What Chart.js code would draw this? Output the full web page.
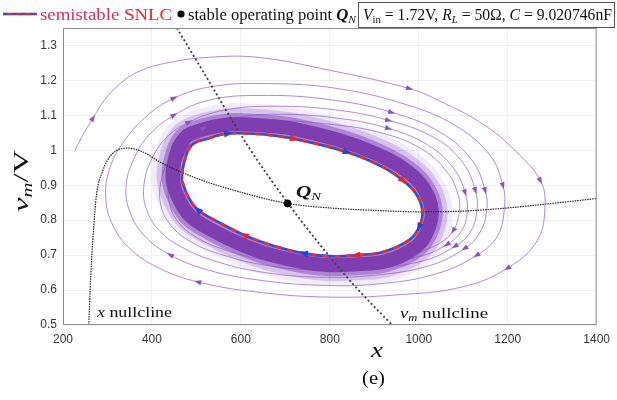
<!DOCTYPE html>
<html>
<head>
<meta charset="utf-8">
<script src="https://cdn.jsdelivr.net/npm/chart.js@4.4.0/dist/chart.umd.min.js"></script>
<style>
  html, body { margin: 0; padding: 0; background: #fff; }
  #wrap { position: relative; width: 617px; height: 400px; }
</style>
</head>
<body>
<div id="wrap"><canvas id="phase" width="617" height="400"></canvas></div>
<script>
// axis ticks
const xTicks = [200, 400, 600, 800, 1000, 1200, 1400];
const vTicks = [0.5, 0.6, 0.7, 0.8, 0.9, 1, 1.1, 1.2, 1.3];

// x nullcline (black dotted)
const xNullX = [258, 261, 264, 269, 275, 289, 311, 347, 380, 420, 500, 600, 704, 800, 900, 1000, 1100, 1200, 1300, 1400];
const xNullV = [0.5, 0.6, 0.68, 0.78, 0.87, 0.94, 0.99, 1.006, 0.995, 0.965, 0.92, 0.88, 0.848, 0.835, 0.828, 0.824, 0.826, 0.835, 0.848, 0.862];

// v_m nullcline
const vmNullX = [456, 520, 615, 706, 800, 860, 940];
const vmNullV = [1.35, 1.215, 1.014, 0.848, 0.695, 0.606, 0.5];

// stable operating point Q_N
const opX = [705];
const opV = [0.848];

// semistable SNLC (clockwise from the left end)
const snlcX = [467, 471, 489, 527, 571, 616, 653, 719, 838, 919, 964, 993, 1008, 1001, 978, 919, 860, 801, 742, 667, 608, 549, 504, 482, 467];
const snlcV = [0.914, 0.957, 1.014, 1.034, 1.048, 1.048, 1.045, 1.033, 0.995, 0.952, 0.914, 0.877, 0.829, 0.781, 0.743, 0.709, 0.700, 0.697, 0.705, 0.729, 0.757, 0.795, 0.829, 0.866, 0.914];
const snlcArrows = [4, 7, 8, 10, 13, 16, 18, 20, 22];

// dense band of trajectories hugging the SNLC (centre line, closed with overlap)
const bandX = [447, 451, 473, 516, 571, 616, 653, 724, 844, 931, 980, 1011, 1029, 1020, 993, 927, 860, 800, 738, 660, 600, 536, 487, 462, 447, 451, 473];
const bandV = [0.914, 0.971, 1.034, 1.060, 1.074, 1.074, 1.071, 1.060, 1.020, 0.974, 0.934, 0.891, 0.829, 0.771, 0.723, 0.683, 0.674, 0.671, 0.680, 0.703, 0.731, 0.771, 0.811, 0.857, 0.914, 0.971, 1.034];

// outer trajectory spiralling onto the SNLC
const trajX = [227, 247, 267, 293, 327, 371, 438, 527, 638, 800, 978, 1044, 1149, 1227, 1273, 1284, 1267, 1200, 1098, 949,
  793, 638, 504, 416, 349, 309, 296, 304, 331, 382, 449, 538, 660, 816, 971, 1082, 1160, 1189, 1193, 1178,
  1131, 1038, 904, 771, 638, 527, 442, 382, 349, 342, 358, 393, 449, 527, 638, 793, 938, 1049, 1120, 1149,
  1153, 1138, 1104, 1027, 904, 771, 649, 549, 471, 416, 387, 382, 398, 431, 482, 560, 660, 804, 931, 1038,
  1100, 1127, 1131, 1116, 1082, 1016, 904, 771, 656, 560, 489, 442, 420, 420, 438, 471, 516, 582, 671, 804,
  931, 1022, 1078, 1104, 1109, 1096, 1064, 1004, 904, 771, 656, 567, 500, 456, 438, 440, 460, 500,
  560, 660, 804, 927, 1011, 1064, 1089, 1091, 1078, 1047, 989];
const trajV = [1.000, 1.049, 1.091, 1.143, 1.189, 1.226, 1.251, 1.266, 1.266, 1.229, 1.177, 1.143, 1.071, 0.986, 0.914, 0.849, 0.743, 0.663, 0.609, 0.586,
  0.580, 0.594, 0.623, 0.663, 0.720, 0.794, 0.871, 0.943, 1.014, 1.091, 1.149, 1.183, 1.191, 1.177, 1.131, 1.071, 0.986, 0.900, 0.843, 0.757,
  0.700, 0.646, 0.617, 0.614, 0.629, 0.657, 0.700, 0.757, 0.829, 0.900, 0.971, 1.043, 1.100, 1.143, 1.157, 1.146, 1.109, 1.051, 0.971, 0.886,
  0.829, 0.766, 0.720, 0.671, 0.643, 0.637, 0.651, 0.680, 0.720, 0.771, 0.834, 0.900, 0.971, 1.034, 1.080, 1.114, 1.126, 1.117, 1.086, 1.034,
  0.963, 0.886, 0.829, 0.766, 0.726, 0.686, 0.663, 0.657, 0.671, 0.700, 0.737, 0.786, 0.843, 0.909, 0.971, 1.023, 1.063, 1.091, 1.103, 1.094,
  1.063, 1.014, 0.949, 0.880, 0.823, 0.769, 0.731, 0.697, 0.677, 0.671, 0.686, 0.714, 0.751, 0.800, 0.857, 0.920, 0.977, 1.029,
  1.063, 1.083, 1.074, 1.046, 1.000, 0.937, 0.871, 0.823, 0.771, 0.734, 0.703];
const trajArrows = [2, 10, 14, 17, 22, 30, 37, 40, 46, 52, 56, 59, 62, 74, 78, 81, 84, 96, 100, 103, 106, 126, 130];

const SERIF = "'Liberation Serif', 'DejaVu Serif', serif";
const SANS = "'Liberation Sans', Arial, sans-serif";

const toPoints = (xs, vs) => xs.map((x, i) => ({ x, y: vs[i] }));

const drawRuns = (ctx, runs, x, y, width) => {
  ctx.save();
  let total = 0;
  runs.forEach((r) => {
    ctx.font = r.font;
    total += ctx.measureText(r.text).width;
  });
  const k = width ? width / total : 1;
  ctx.translate(x, y);
  ctx.scale(k, 1);
  let cx = 0;
  runs.forEach((r) => {
    ctx.font = r.font;
    ctx.fillStyle = r.color || "#111";
    ctx.fillText(r.text, cx, r.dy || 0);
    cx += ctx.measureText(r.text).width;
  });
  ctx.restore();
};

const drawTriangle = (ctx, x, y, angle, size, color) => {
  ctx.save();
  ctx.translate(x, y);
  ctx.rotate(angle);
  ctx.beginPath();
  ctx.moveTo(size, 0);
  ctx.lineTo(-size * 0.7, size * 0.62);
  ctx.lineTo(-size * 0.7, -size * 0.62);
  ctx.closePath();
  ctx.fillStyle = color;
  ctx.fill();
  ctx.restore();
};

const arrowPlugin = {
  id: "arrows",
  afterDatasetsDraw(chart) {
    const ctx = chart.ctx;
    const xs = chart.scales.x;
    const ys = chart.scales.y;
    const px = (xv, vv) => [xs.getPixelForValue(xv), ys.getPixelForValue(vv)];
    const put = (arrX, arrV, idx, size, colorFor) => {
      idx.forEach((i, n) => {
        const [x0, y0] = px(arrX[i - 1], arrV[i - 1]);
        const [x1, y1] = px(arrX[i], arrV[i]);
        const [x2, y2] = px(arrX[i + 1], arrV[i + 1]);
        drawTriangle(ctx, x1, y1, Math.atan2(y2 - y0, x2 - x0), size, colorFor(n));
      });
    };
    ctx.save();
    ctx.beginPath();
    ctx.rect(chart.chartArea.left, chart.chartArea.top, chart.chartArea.width, chart.chartArea.height);
    ctx.clip();
    put(trajX, trajV, trajArrows, 4.2, () => "#8a52c4");
    put(snlcX, snlcV, snlcArrows, 5.5, (n) => (n % 2 === 0 ? "#2446d0" : "#f02424"));
    ctx.restore();
  },
};

const textPlugin = {
  id: "texts",
  afterDraw(chart) {
    const ctx = chart.ctx;
    const area = chart.chartArea;
    ctx.save();

    // plot frame
    ctx.strokeStyle = "#8c8c8c";
    ctx.lineWidth = 1;
    ctx.strokeRect(area.left + 0.5, area.top + 0.5, area.width - 1, area.height - 1);

    // legend: dashed SNLC sample
    ctx.lineWidth = 2.6;
    ctx.setLineDash([5, 4]);
    ctx.strokeStyle = "#2b50d8";
    ctx.beginPath();
    ctx.moveTo(3, 14);
    ctx.lineTo(37, 14);
    ctx.stroke();
    ctx.strokeStyle = "#f02a2a";
    ctx.lineDashOffset = 4.5;
    ctx.beginPath();
    ctx.moveTo(3, 14);
    ctx.lineTo(37, 14);
    ctx.stroke();
    ctx.setLineDash([]);

    drawRuns(ctx, [
      { text: "semistable ", font: `16px ${SERIF}`, color: "#d0305f" },
      { text: "SNLC", font: `16px ${SERIF}`, color: "#ee2222" },
    ], 40, 20, 132);

    ctx.fillStyle = "#000";
    ctx.beginPath();
    ctx.arc(181, 14, 3.6, 0, Math.PI * 2);
    ctx.fill();

    drawRuns(ctx, [
      { text: "stable operating point ", font: `16px ${SERIF}` },
      { text: "Q", font: `italic bold 16px ${SERIF}` },
      { text: "N", font: `italic 11px ${SERIF}`, dy: 3 },
    ], 188, 20, 168);

    ctx.strokeStyle = "#555";
    ctx.lineWidth = 1;
    ctx.strokeRect(358.5, 2.5, 256, 25);
    drawRuns(ctx, [
      { text: "V", font: `italic 16px ${SERIF}` },
      { text: "in", font: `11px ${SERIF}`, dy: 3 },
      { text: " = 1.72V, ", font: `16px ${SERIF}` },
      { text: "R", font: `italic 16px ${SERIF}` },
      { text: "L", font: `italic 11px ${SERIF}`, dy: 3 },
      { text: " = 50\u03A9, ", font: `16px ${SERIF}` },
      { text: "C", font: `italic 16px ${SERIF}` },
      { text: " = 9.020746nF", font: `16px ${SERIF}` },
    ], 363, 20, 249);

    // in-plot labels
    drawRuns(ctx, [
      { text: "x", font: `italic 15px ${SERIF}` },
      { text: " nullcline", font: `15px ${SERIF}` },
    ], 97, 317, 75);
    drawRuns(ctx, [
      { text: "v", font: `italic 15px ${SERIF}` },
      { text: "m", font: `italic 10px ${SERIF}`, dy: 3 },
      { text: " nullcline", font: `15px ${SERIF}` },
    ], 400, 318, 88);
    drawRuns(ctx, [
      { text: "Q", font: `italic bold 16px ${SERIF}` },
      { text: "N", font: `italic 11px ${SERIF}`, dy: 3 },
    ], 296, 197, 25);

    // axis titles
    drawRuns(ctx, [{ text: "x", font: `italic 21px ${SERIF}` }], 371, 357, 12);
    ctx.save();
    ctx.translate(28, 212);
    ctx.rotate(-Math.PI / 2);
    drawRuns(ctx, [
      { text: "v", font: `italic 22px ${SERIF}` },
      { text: "m", font: `italic 14px ${SERIF}`, dy: 4 },
      { text: "/V", font: `22px ${SERIF}` },
    ], 0, 0, 62);
    ctx.restore();

    drawRuns(ctx, [{ text: "(e)", font: `18px ${SERIF}` }], 362, 384, 23);
    ctx.restore();
  },
};

const snlcPoints = toPoints(snlcX, snlcV);
const bandPoints = toPoints(bandX, bandV);

const bandLayer = (color, width, order) => ({
  label: "band",
  data: bandPoints,
  showLine: true,
  borderColor: color,
  borderWidth: width,
  borderJoinStyle: "round",
  borderCapStyle: "round",
  tension: 0.4,
  pointRadius: 0,
  order,
});

new Chart(document.getElementById("phase"), {
  type: "scatter",
  data: {
    datasets: [
      {
        label: "SNLC red",
        data: snlcPoints,
        showLine: true,
        borderColor: "#f02a2a",
        borderWidth: 2.6,
        borderDash: [6, 6],
        borderDashOffset: 6,
        tension: 0.4,
        pointRadius: 0,
        order: 0,
      },
      {
        label: "SNLC blue",
        data: snlcPoints,
        showLine: true,
        borderColor: "#2b50d8",
        borderWidth: 2.6,
        tension: 0.4,
        pointRadius: 0,
        order: 1,
      },
      {
        label: "Q_N",
        data: toPoints(opX, opV),
        showLine: false,
        pointRadius: 3.5,
        pointBackgroundColor: "#000",
        pointBorderColor: "#000",
        order: 2,
      },
      {
        label: "vm nullcline",
        data: toPoints(vmNullX, vmNullV),
        showLine: true,
        borderColor: "#3a3a3a",
        borderWidth: 1.8,
        borderDash: [2, 2.5],
        cubicInterpolationMode: "monotone",
        pointRadius: 0,
        order: 3,
      },
      {
        label: "x nullcline",
        data: toPoints(xNullX, xNullV),
        showLine: true,
        borderColor: "#222",
        borderWidth: 1.2,
        borderDash: [1.5, 1],
        cubicInterpolationMode: "monotone",
        pointRadius: 0,
        order: 4,
      },
      {
        label: "interior",
        data: snlcPoints,
        showLine: true,
        borderWidth: 0,
        borderColor: "rgba(0,0,0,0)",
        backgroundColor: "#fff",
        fill: "shape",
        tension: 0.4,
        pointRadius: 0,
        order: 5,
      },
      bandLayer("rgb(126,62,176)", 14, 6),
      bandLayer("rgba(136,80,188,0.55)", 22, 7),
      bandLayer("rgba(150,100,200,0.3)", 32, 8),
      bandLayer("rgba(170,130,215,0.15)", 42, 9),
      {
        label: "trajectory",
        data: toPoints(trajX, trajV),
        showLine: true,
        borderColor: "rgba(168,122,212,0.9)",
        borderWidth: 1,
        tension: 0.4,
        pointRadius: 0,
        order: 10,
      },
    ],
  },
  options: {
    responsive: false,
    animation: false,
    events: [],
    layout: { padding: { top: 28, right: 14, left: 0, bottom: 0 } },
    plugins: {
      legend: { display: false },
      tooltip: { enabled: false },
    },
    scales: {
      x: {
        type: "linear",
        min: 200,
        max: 1400,
        afterBuildTicks: (scale) => {
          scale.ticks = xTicks.map((value) => ({ value }));
        },
        afterFit: (scale) => {
          scale.height = 75;
        },
        border: { display: false },
        grid: { color: "#efefef", drawTicks: false },
        ticks: {
          padding: 7,
          color: "#333",
          font: { family: SANS, size: 12 },
          maxRotation: 0,
          callback: (v) => String(v),
        },
      },
      y: {
        type: "linear",
        min: 0.5,
        max: 1.35,
        afterBuildTicks: (scale) => {
          scale.ticks = vTicks.map((value) => ({ value }));
        },
        afterFit: (scale) => {
          scale.width = 63;
        },
        border: { display: false },
        grid: { color: "#efefef", drawTicks: false },
        ticks: {
          padding: 6,
          color: "#333",
          font: { family: SANS, size: 12 },
          callback: (v) => String(+Number(v).toFixed(2)),
        },
      },
    },
  },
  plugins: [arrowPlugin, textPlugin],
});
</script>
</body>
</html>
